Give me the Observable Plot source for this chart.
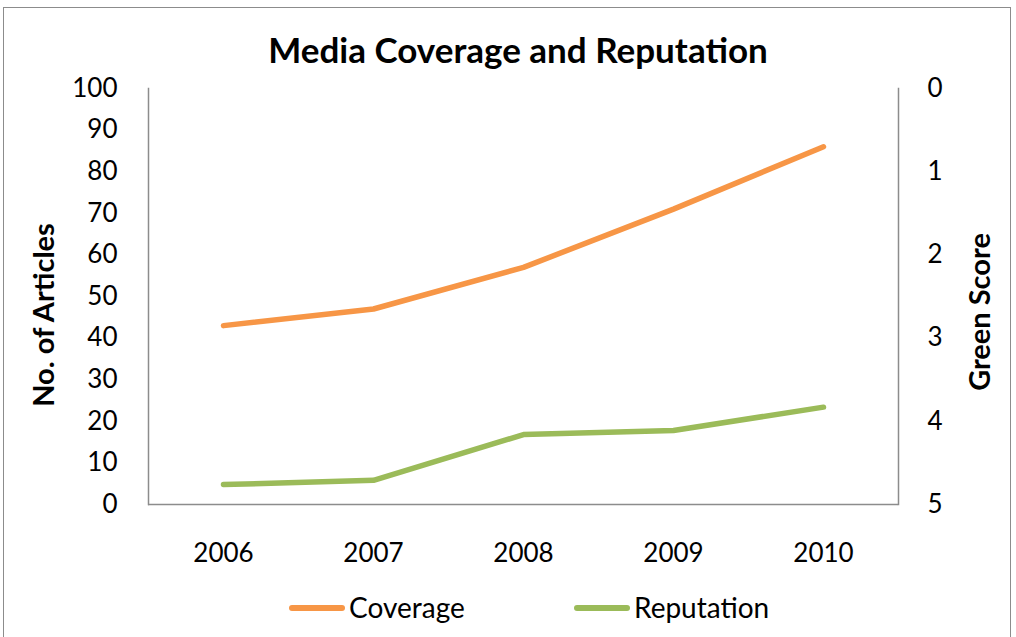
<!DOCTYPE html>
<html>
<head>
<meta charset="utf-8">
<script src="https://cdn.jsdelivr.net/npm/d3@7"></script>
<script src="https://cdn.jsdelivr.net/npm/@observablehq/plot@0.6"></script>
<style>
  html, body { margin: 0; padding: 0; background: #fff; }
  #wrap { position: relative; width: 1016px; height: 637px; overflow: hidden; font-family: Lato, sans-serif; color: #000; }
  #border { position: absolute; left: 3px; top: 7px; width: 1008px; height: 700px; border: 1.5px solid #8c8c8c; box-sizing: border-box; }
  #chart { position: absolute; left: 0; top: 0; }
  .title { position: absolute; left: 0; width: 1036px; top: 32px; text-align: center; font-weight: 700; font-size: 35px; line-height: 35px; white-space: nowrap; }
  .ylab { position: absolute; font-weight: 700; font-size: 29px; line-height: 29px; white-space: nowrap; transform: translate(-50%, -50%) rotate(-90deg); }
  .leg { position: absolute; top: 593px; display: flex; align-items: center; font-size: 28px; line-height: 28px; white-space: nowrap; }
  .sw { width: 56px; height: 6px; border-radius: 3px; margin-right: 4px; margin-top: 2px; }
</style>
</head>
<body>
<div id="wrap">
  <div id="border"></div>
  <div id="chart"></div>
  <div class="title">Media Coverage and Reputation</div>
  <div class="ylab" style="left:42px; top:315px;">No. of Articles</div>
  <div class="ylab" style="left:978px; top:312px;">Green Score</div>
  <div id="legend"></div>
</div>
<script>
// ---- data ----
const years = ["2006", "2007", "2008", "2009", "2010"];
const coverage = [43, 47, 57, 71, 86];            // No. of Articles (left axis)
const reputation = [4.76, 4.71, 4.16, 4.11, 3.83]; // Green Score (right axis, inverted)
const articleTicks = [0, 10, 20, 30, 40, 50, 60, 70, 80, 90, 100];
const scoreTicks = [0, 1, 2, 3, 4, 5];
const seriesNames = ["Coverage", "Reputation"];
const seriesColors = ["#F79646", "#9BBB59"];

const rows = years.map((year, i) => ({year, coverage: coverage[i], reputation: reputation[i]}));

// secondary (right) axis: Green Score 0 at top, 5 at bottom, mapped onto the left scale
const y2 = d3.scaleLinear([0, 5], [100, 0]);

const axisColor = "#8c8c8c";

const chart = Plot.plot({
  width: 1016,
  height: 637,
  marginTop: 88,
  marginBottom: 133,
  marginLeft: 148,
  marginRight: 118,
  style: {fontFamily: "Lato, sans-serif", fontSize: "26px", color: "#000", background: "transparent"},
  x: {type: "point", domain: years, padding: 0.5},
  y: {domain: [0, 100]},
  marks: [
    Plot.frame({anchor: "left", stroke: axisColor, strokeWidth: 1.5}),
    Plot.frame({anchor: "right", stroke: axisColor, strokeWidth: 1.5}),
    Plot.ruleY([0], {stroke: axisColor, strokeWidth: 1.5}),
    Plot.axisX({tickSize: 0, tickPadding: 39, label: null, fontSize: 26}),
    Plot.axisY({ticks: articleTicks, tickSize: 0, tickPadding: 31, label: null, fontSize: 26}),
    Plot.axisY({anchor: "right", ticks: scoreTicks.map(t => y2(t)), tickFormat: d => String(Math.round(y2.invert(d))), tickSize: 0, tickPadding: 29, label: null, fontSize: 26}),
    Plot.line(rows, {x: "year", y: "coverage", stroke: seriesColors[0], strokeWidth: 5.5, strokeLinecap: "round", strokeLinejoin: "round"}),
    Plot.line(rows, {x: "year", y: d => y2(d.reputation), stroke: seriesColors[1], strokeWidth: 5.5, strokeLinecap: "round", strokeLinejoin: "round"})
  ]
});
document.getElementById("chart").appendChild(chart);

// legend
const legendLeft = [289, 574];
const legend = document.getElementById("legend");
seriesNames.forEach((name, i) => {
  const item = document.createElement("div");
  item.className = "leg";
  item.style.left = legendLeft[i] + "px";
  const sw = document.createElement("div");
  sw.className = "sw";
  sw.style.background = seriesColors[i];
  const t = document.createElement("span");
  t.textContent = name;
  item.appendChild(sw);
  item.appendChild(t);
  legend.appendChild(item);
});
</script>
</body>
</html>
